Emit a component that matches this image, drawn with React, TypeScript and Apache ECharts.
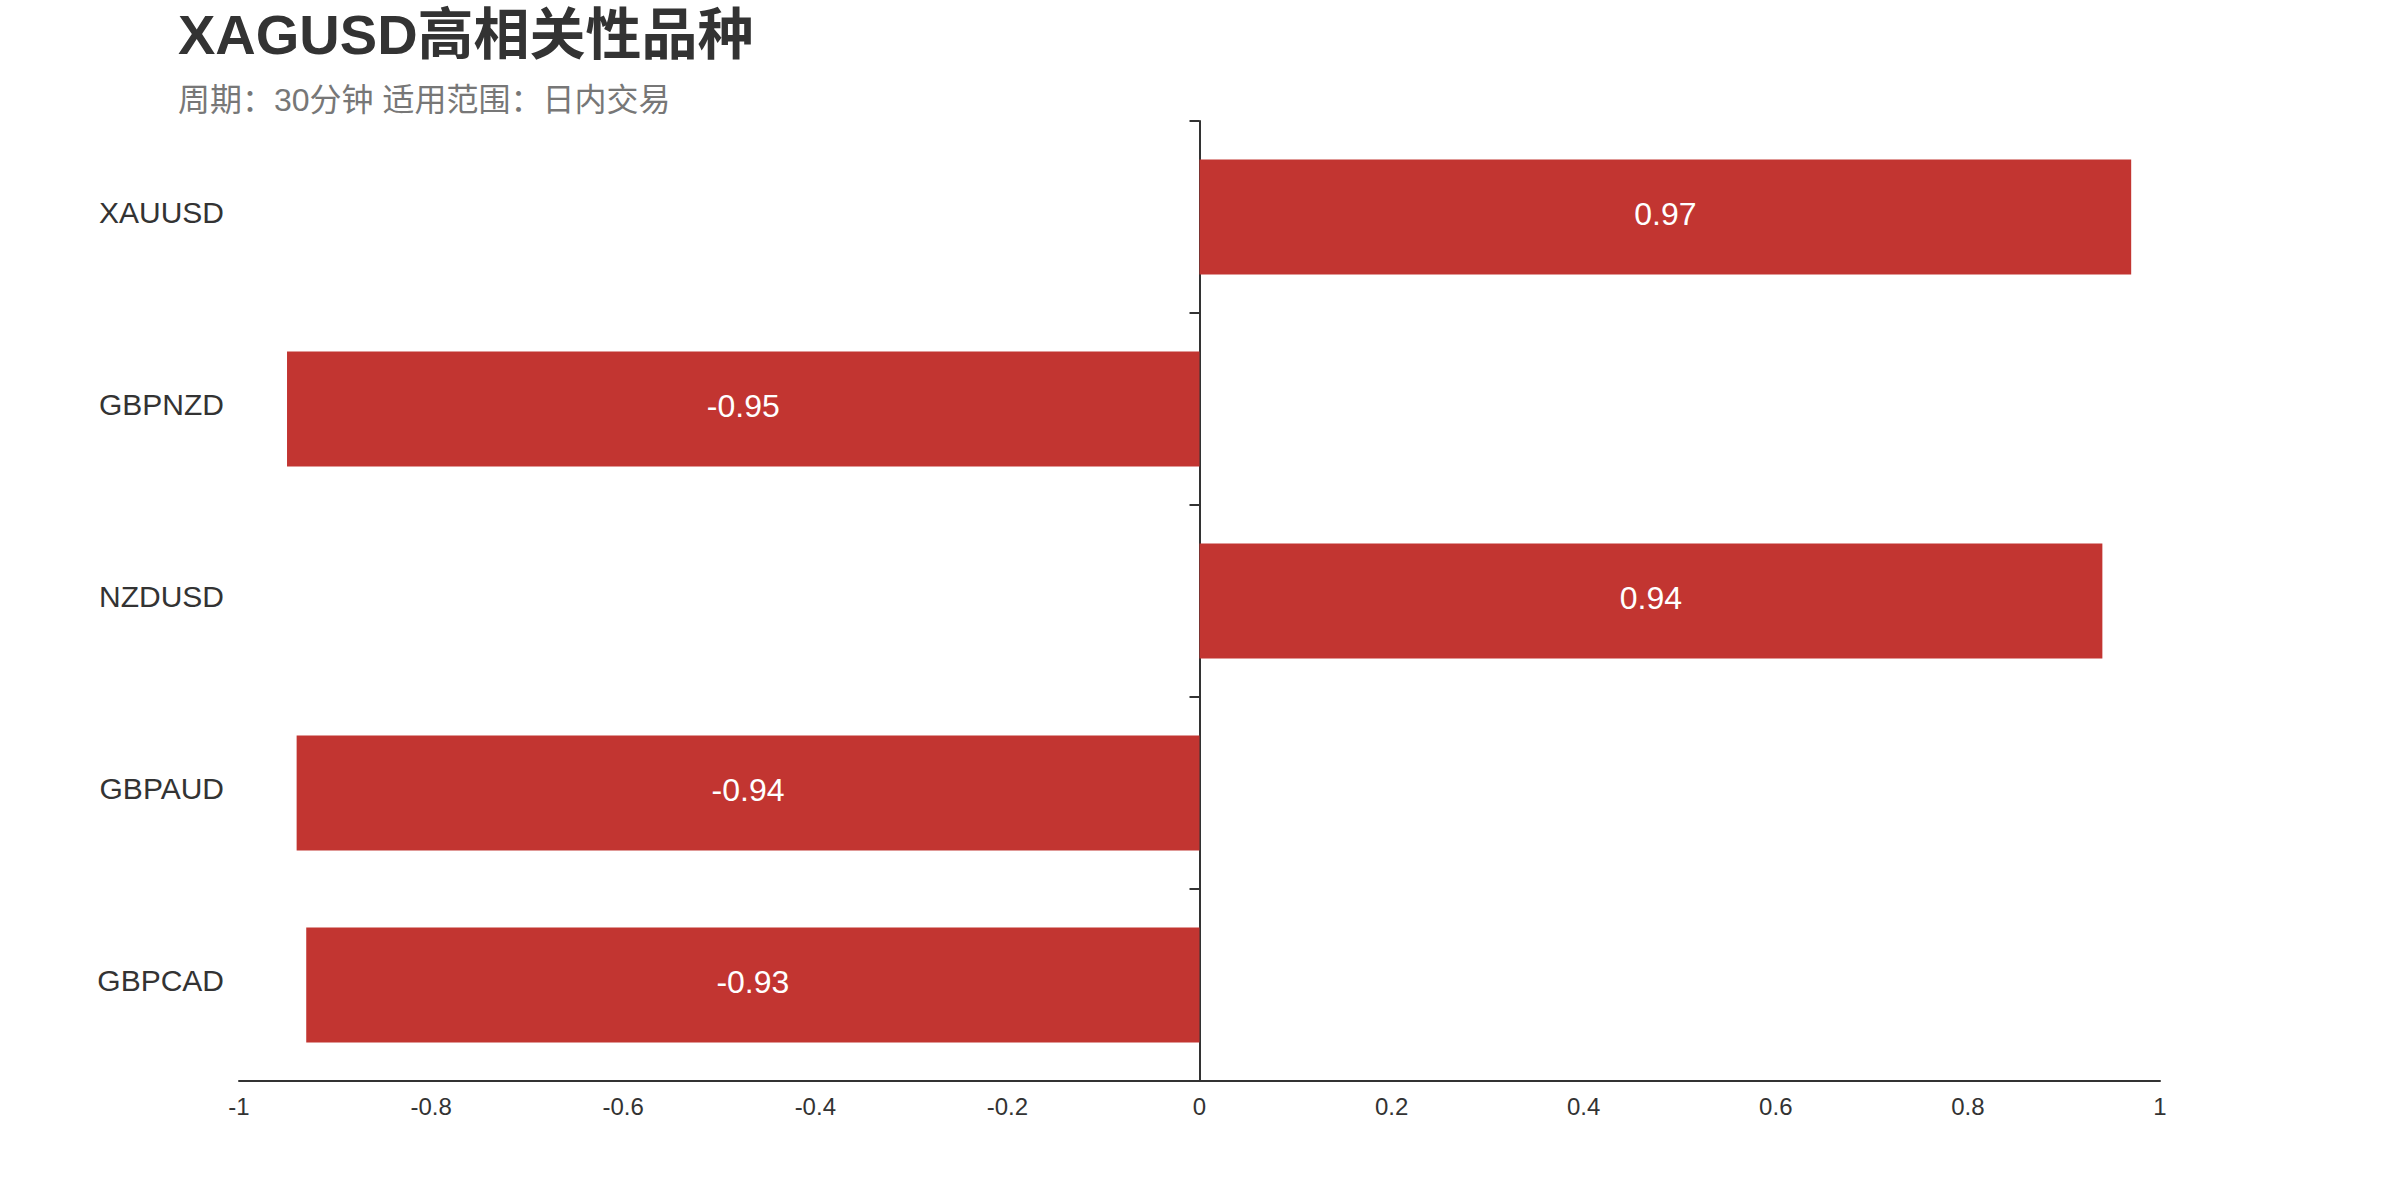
import React, { useEffect, useRef } from "react";
import * as echarts from "echarts";

const categories: string[] = ["XAUUSD", "GBPNZD", "NZDUSD", "GBPAUD", "GBPCAD"];
const values: number[] = [0.97, -0.95, 0.94, -0.94, -0.93];
const titleText = "XAGUSD高相关性品种";
const subtitleText = "周期：30分钟 适用范围：日内交易";

const FONT = "'Liberation Sans', Arial, 'Noto Sans CJK SC', sans-serif";

export default function App() {
  const ref = useRef<HTMLDivElement>(null);
  useEffect(() => {
    document.body.style.margin = "0";
    if (!ref.current) return;
    const chart = echarts.init(ref.current, null, { renderer: "svg" });
    chart.setOption({
      animation: false,
      backgroundColor: "#ffffff",
      textStyle: { fontFamily: FONT },
      title: {
        text: titleText,
        subtext: subtitleText,
        left: 173,
        top: 1,
        itemGap: 22,
        textStyle: { fontSize: 56, fontWeight: "bold", color: "#333", fontFamily: FONT },
        subtextStyle: { fontSize: 32, color: "#777", fontFamily: FONT },
      },
      grid: { left: 239, right: 240, top: 121, bottom: 119, containLabel: false },
      xAxis: {
        type: "value",
        min: -1,
        max: 1,
        interval: 0.2,
        splitLine: { show: false },
        axisTick: { show: false },
        axisLine: { show: true, onZero: false, lineStyle: { color: "#333", width: 2 } },
        axisLabel: { fontSize: 24, color: "#333", margin: 13, fontFamily: FONT },
      },
      yAxis: [
        {
          type: "category",
          data: categories,
          inverse: true,
          axisLine: { show: true, onZero: true, lineStyle: { color: "#333", width: 2 } },
          axisTick: { show: true, length: 10, lineStyle: { color: "#333", width: 2 } },
          axisLabel: { show: false },
          splitLine: { show: false },
        },
        {
          type: "category",
          data: categories,
          inverse: true,
          position: "left",
          axisLine: { show: false, onZero: false },
          axisTick: { show: false },
          axisLabel: {
            show: true,
            fontSize: 30,
            color: "#333",
            margin: 15,
            verticalAlign: "bottom",
            lineHeight: 10,
            fontFamily: FONT,
          },
          splitLine: { show: false },
        },
      ],
      series: [
        {
          type: "bar",
          data: values,
          yAxisIndex: 0,
          barCategoryGap: "40%",
          itemStyle: { color: "#C23531" },
          label: {
            show: true,
            position: "inside",
            color: "#fff",
            fontSize: 32,
            offset: [0, -3],
            fontFamily: FONT,
          },
        },
      ],
    });
    return () => chart.dispose();
  }, []);
  return <div ref={ref} style={{ width: 2400, height: 1200 }} />;
}
